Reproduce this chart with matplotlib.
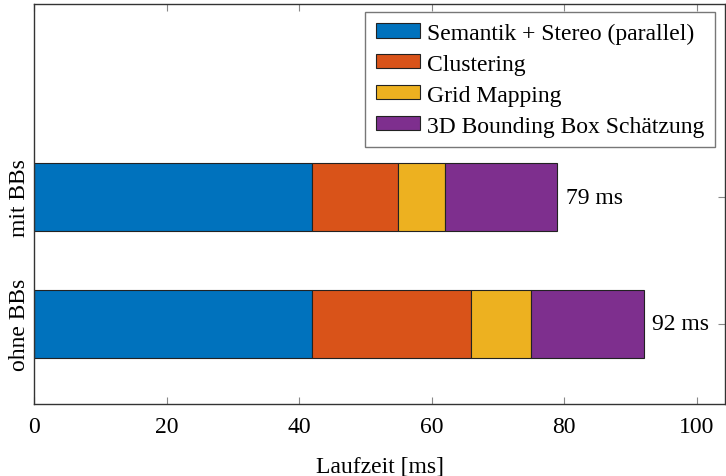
import numpy as np
import matplotlib.pyplot as plt
from matplotlib.patches import Patch

plt.rcParams['font.family'] = ['Liberation Serif', 'DejaVu Serif']
plt.rcParams['mathtext.fontset'] = 'stix'

categories = ['ohne BBs', 'mit BBs']
stages = ['Semantik + Stereo (parallel)', 'Clustering', 'Grid Mapping',
          '3D Bounding Box Schätzung']
semantik = [42, 42]
clustering = [24, 13]
grid_mapping = [9, 7]
bbox = [17, 17]
totals = [92, 79]

colors = ['#0072BD', '#D95319', '#EDB120', '#7E2F8E']
series = [semantik, clustering, grid_mapping, bbox]

fs = 17

fig = plt.figure(figsize=(7.26, 4.77), dpi=100)
ax = fig.add_axes([0.0468, 0.151, 0.952, 0.8385])

y = np.arange(len(categories))
left = np.zeros(len(categories))
for vals, col in zip(series, colors):
    ax.barh(y, vals, left=left, height=0.53, color=col, edgecolor='#222222',
            linewidth=0.8, zorder=2)
    left += np.array(vals)

for yi, t in zip(y, totals):
    ax.text(t + 1.3, yi, f'{t} ms', va='center', ha='left', fontsize=fs)

ax.set_xlim(0, 104.3)
ax.set_ylim(-0.63, 2.52)
ax.set_xticks([0, 20, 40, 60, 80, 100])
ax.set_yticks(y)
ax.set_yticklabels(categories, rotation=90, va='center', fontsize=fs)
ax.tick_params(axis='x', labelsize=fs, direction='in', length=5, color='#888888',
               top=True, pad=9)
ax.tick_params(axis='y', direction='in', length=5, color='#888888', right=True,
               pad=3)
for s in ax.spines.values():
    s.set_color('#333333')
    s.set_linewidth(1.0)
ax.set_xlabel('Laufzeit [ms]', fontsize=fs, labelpad=13)

handles = [Patch(facecolor=c, edgecolor='#222222', linewidth=0.8) for c in colors]
leg = ax.legend(handles, stages, loc='upper right', fontsize=fs,
                bbox_to_anchor=(0.986, 0.98), fancybox=False, framealpha=1,
                edgecolor='#777777', handlelength=1.9, handleheight=0.55,
                handletextpad=0.3, borderpad=0.45, labelspacing=0.42,
                borderaxespad=0.0)
leg.get_frame().set_linewidth(1.0)

fig.savefig('out.png', dpi=100)
